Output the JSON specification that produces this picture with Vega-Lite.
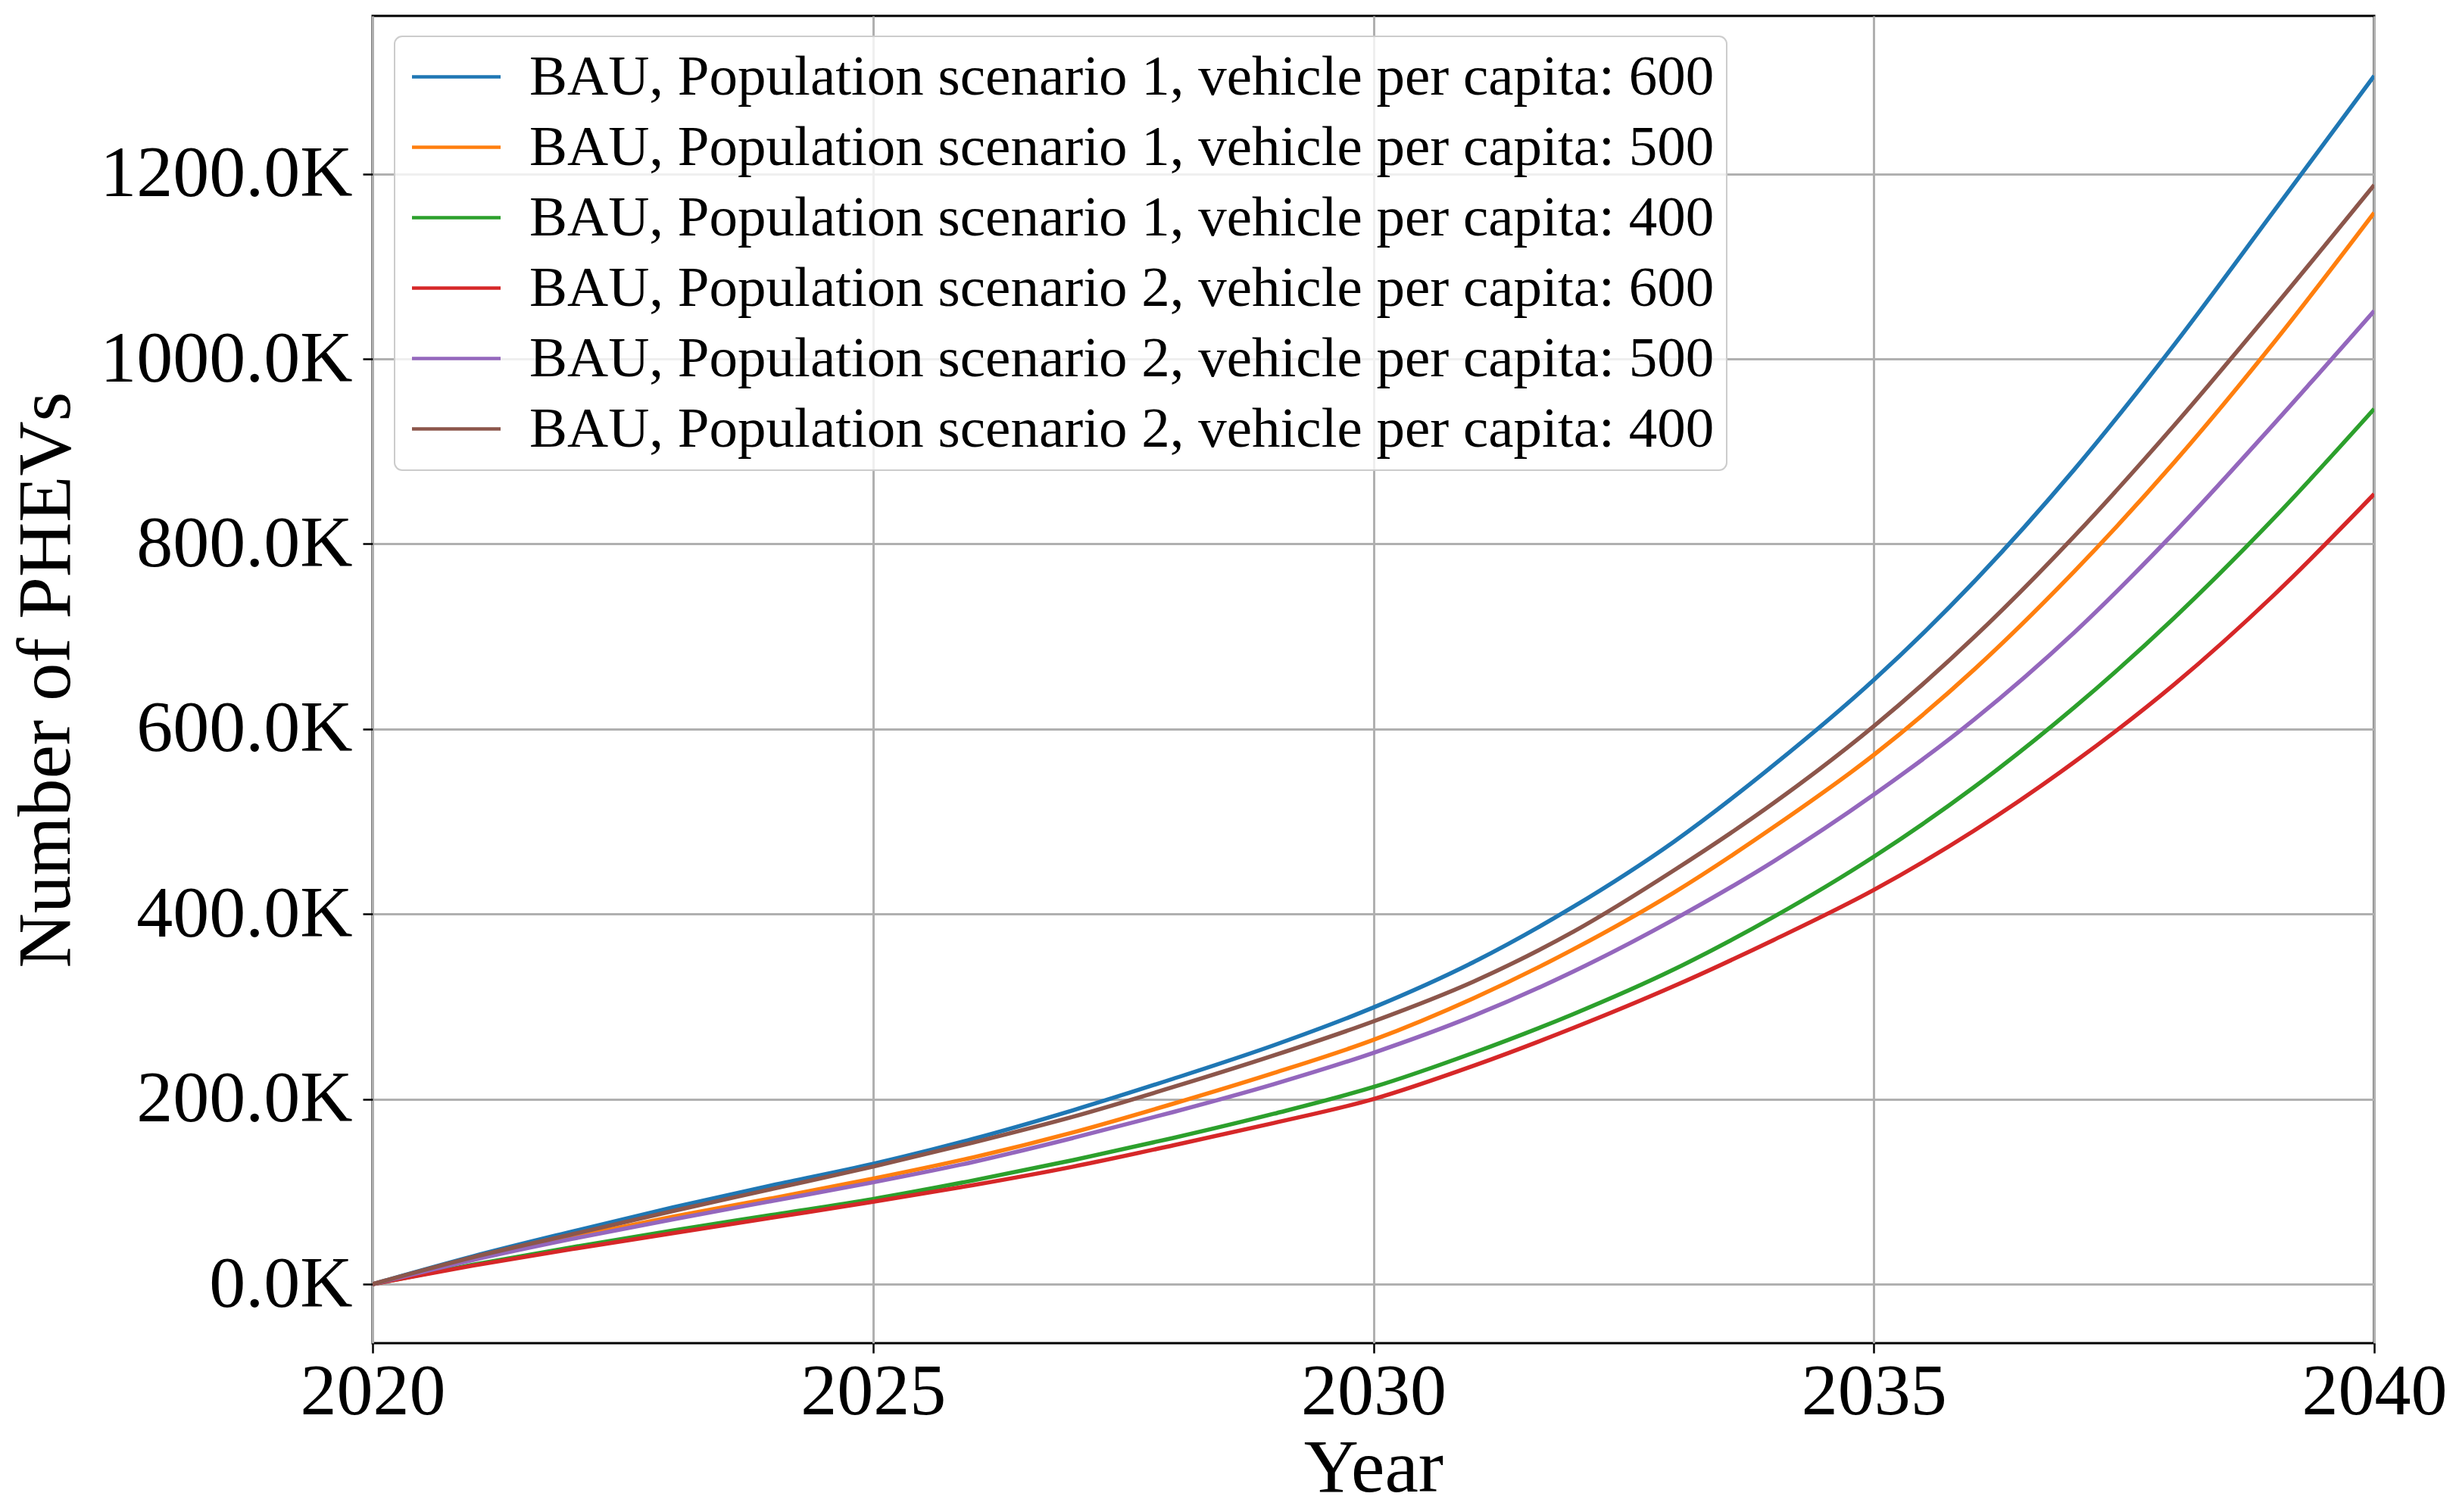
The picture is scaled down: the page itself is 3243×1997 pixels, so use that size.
{
 "$schema": "https://vega.github.io/schema/vega-lite/v6.json",
 "width": 2643, "height": 1753,
 "autosize": {"type": "none"},
 "padding": {"left": 492, "top": 21, "right": 108, "bottom": 223},
 "background": "white",
 "config": {
  "font": "Liberation Serif",
  "view": {"stroke": "#000000", "strokeWidth": 3},
  "axis": {"domain": false, "grid": true, "gridColor": "#b0b0b0", "gridWidth": 3, "tickColor": "#000000", "tickWidth": 2.5, "tickSize": 13, "labelFont": "Liberation Serif", "labelFontSize": 96, "labelColor": "#000000", "labelLimit": 0, "titleFont": "Liberation Serif", "titleFontSize": 100, "titleFontWeight": "normal", "titleColor": "#000000", "labelFlush": false, "labelOverlap": false, "labelBound": false}
 },
 "data": {"values": [
  {"year":2020,"series":"BAU, Population scenario 1, vehicle per capita: 600","phevs":0},
  {"year":2021,"series":"BAU, Population scenario 1, vehicle per capita: 600","phevs":30000},
  {"year":2022,"series":"BAU, Population scenario 1, vehicle per capita: 600","phevs":57000},
  {"year":2023,"series":"BAU, Population scenario 1, vehicle per capita: 600","phevs":83000},
  {"year":2024,"series":"BAU, Population scenario 1, vehicle per capita: 600","phevs":107000},
  {"year":2025,"series":"BAU, Population scenario 1, vehicle per capita: 600","phevs":130000},
  {"year":2026,"series":"BAU, Population scenario 1, vehicle per capita: 600","phevs":157000},
  {"year":2027,"series":"BAU, Population scenario 1, vehicle per capita: 600","phevs":188000},
  {"year":2028,"series":"BAU, Population scenario 1, vehicle per capita: 600","phevs":222000},
  {"year":2029,"series":"BAU, Population scenario 1, vehicle per capita: 600","phevs":258000},
  {"year":2030,"series":"BAU, Population scenario 1, vehicle per capita: 600","phevs":299000},
  {"year":2031,"series":"BAU, Population scenario 1, vehicle per capita: 600","phevs":348000},
  {"year":2032,"series":"BAU, Population scenario 1, vehicle per capita: 600","phevs":408000},
  {"year":2033,"series":"BAU, Population scenario 1, vehicle per capita: 600","phevs":478000},
  {"year":2034,"series":"BAU, Population scenario 1, vehicle per capita: 600","phevs":561000},
  {"year":2035,"series":"BAU, Population scenario 1, vehicle per capita: 600","phevs":653000},
  {"year":2036,"series":"BAU, Population scenario 1, vehicle per capita: 600","phevs":759000},
  {"year":2037,"series":"BAU, Population scenario 1, vehicle per capita: 600","phevs":880000},
  {"year":2038,"series":"BAU, Population scenario 1, vehicle per capita: 600","phevs":1015000},
  {"year":2039,"series":"BAU, Population scenario 1, vehicle per capita: 600","phevs":1160000},
  {"year":2040,"series":"BAU, Population scenario 1, vehicle per capita: 600","phevs":1306000},
  {"year":2020,"series":"BAU, Population scenario 1, vehicle per capita: 500","phevs":0},
  {"year":2021,"series":"BAU, Population scenario 1, vehicle per capita: 500","phevs":27000},
  {"year":2022,"series":"BAU, Population scenario 1, vehicle per capita: 500","phevs":51000},
  {"year":2023,"series":"BAU, Population scenario 1, vehicle per capita: 500","phevs":73000},
  {"year":2024,"series":"BAU, Population scenario 1, vehicle per capita: 500","phevs":93000},
  {"year":2025,"series":"BAU, Population scenario 1, vehicle per capita: 500","phevs":114000},
  {"year":2026,"series":"BAU, Population scenario 1, vehicle per capita: 500","phevs":137000},
  {"year":2027,"series":"BAU, Population scenario 1, vehicle per capita: 500","phevs":164000},
  {"year":2028,"series":"BAU, Population scenario 1, vehicle per capita: 500","phevs":195000},
  {"year":2029,"series":"BAU, Population scenario 1, vehicle per capita: 500","phevs":228000},
  {"year":2030,"series":"BAU, Population scenario 1, vehicle per capita: 500","phevs":264000},
  {"year":2031,"series":"BAU, Population scenario 1, vehicle per capita: 500","phevs":309000},
  {"year":2032,"series":"BAU, Population scenario 1, vehicle per capita: 500","phevs":362000},
  {"year":2033,"series":"BAU, Population scenario 1, vehicle per capita: 500","phevs":423000},
  {"year":2034,"series":"BAU, Population scenario 1, vehicle per capita: 500","phevs":494000},
  {"year":2035,"series":"BAU, Population scenario 1, vehicle per capita: 500","phevs":572000},
  {"year":2036,"series":"BAU, Population scenario 1, vehicle per capita: 500","phevs":664000},
  {"year":2037,"series":"BAU, Population scenario 1, vehicle per capita: 500","phevs":770000},
  {"year":2038,"series":"BAU, Population scenario 1, vehicle per capita: 500","phevs":888000},
  {"year":2039,"series":"BAU, Population scenario 1, vehicle per capita: 500","phevs":1018000},
  {"year":2040,"series":"BAU, Population scenario 1, vehicle per capita: 500","phevs":1158000},
  {"year":2020,"series":"BAU, Population scenario 1, vehicle per capita: 400","phevs":0},
  {"year":2021,"series":"BAU, Population scenario 1, vehicle per capita: 400","phevs":21000},
  {"year":2022,"series":"BAU, Population scenario 1, vehicle per capita: 400","phevs":40000},
  {"year":2023,"series":"BAU, Population scenario 1, vehicle per capita: 400","phevs":58000},
  {"year":2024,"series":"BAU, Population scenario 1, vehicle per capita: 400","phevs":75000},
  {"year":2025,"series":"BAU, Population scenario 1, vehicle per capita: 400","phevs":92000},
  {"year":2026,"series":"BAU, Population scenario 1, vehicle per capita: 400","phevs":112000},
  {"year":2027,"series":"BAU, Population scenario 1, vehicle per capita: 400","phevs":134000},
  {"year":2028,"series":"BAU, Population scenario 1, vehicle per capita: 400","phevs":158000},
  {"year":2029,"series":"BAU, Population scenario 1, vehicle per capita: 400","phevs":184000},
  {"year":2030,"series":"BAU, Population scenario 1, vehicle per capita: 400","phevs":213000},
  {"year":2031,"series":"BAU, Population scenario 1, vehicle per capita: 400","phevs":250000},
  {"year":2032,"series":"BAU, Population scenario 1, vehicle per capita: 400","phevs":292000},
  {"year":2033,"series":"BAU, Population scenario 1, vehicle per capita: 400","phevs":340000},
  {"year":2034,"series":"BAU, Population scenario 1, vehicle per capita: 400","phevs":397000},
  {"year":2035,"series":"BAU, Population scenario 1, vehicle per capita: 400","phevs":462000},
  {"year":2036,"series":"BAU, Population scenario 1, vehicle per capita: 400","phevs":537000},
  {"year":2037,"series":"BAU, Population scenario 1, vehicle per capita: 400","phevs":623000},
  {"year":2038,"series":"BAU, Population scenario 1, vehicle per capita: 400","phevs":720000},
  {"year":2039,"series":"BAU, Population scenario 1, vehicle per capita: 400","phevs":828000},
  {"year":2040,"series":"BAU, Population scenario 1, vehicle per capita: 400","phevs":946000},
  {"year":2020,"series":"BAU, Population scenario 2, vehicle per capita: 600","phevs":0},
  {"year":2021,"series":"BAU, Population scenario 2, vehicle per capita: 600","phevs":20000},
  {"year":2022,"series":"BAU, Population scenario 2, vehicle per capita: 600","phevs":38000},
  {"year":2023,"series":"BAU, Population scenario 2, vehicle per capita: 600","phevs":55000},
  {"year":2024,"series":"BAU, Population scenario 2, vehicle per capita: 600","phevs":72000},
  {"year":2025,"series":"BAU, Population scenario 2, vehicle per capita: 600","phevs":89000},
  {"year":2026,"series":"BAU, Population scenario 2, vehicle per capita: 600","phevs":107000},
  {"year":2027,"series":"BAU, Population scenario 2, vehicle per capita: 600","phevs":127000},
  {"year":2028,"series":"BAU, Population scenario 2, vehicle per capita: 600","phevs":150000},
  {"year":2029,"series":"BAU, Population scenario 2, vehicle per capita: 600","phevs":174000},
  {"year":2030,"series":"BAU, Population scenario 2, vehicle per capita: 600","phevs":200000},
  {"year":2031,"series":"BAU, Population scenario 2, vehicle per capita: 600","phevs":236000},
  {"year":2032,"series":"BAU, Population scenario 2, vehicle per capita: 600","phevs":277000},
  {"year":2033,"series":"BAU, Population scenario 2, vehicle per capita: 600","phevs":322000},
  {"year":2034,"series":"BAU, Population scenario 2, vehicle per capita: 600","phevs":372000},
  {"year":2035,"series":"BAU, Population scenario 2, vehicle per capita: 600","phevs":426000},
  {"year":2036,"series":"BAU, Population scenario 2, vehicle per capita: 600","phevs":490000},
  {"year":2037,"series":"BAU, Population scenario 2, vehicle per capita: 600","phevs":564000},
  {"year":2038,"series":"BAU, Population scenario 2, vehicle per capita: 600","phevs":648000},
  {"year":2039,"series":"BAU, Population scenario 2, vehicle per capita: 600","phevs":745000},
  {"year":2040,"series":"BAU, Population scenario 2, vehicle per capita: 600","phevs":854000},
  {"year":2020,"series":"BAU, Population scenario 2, vehicle per capita: 500","phevs":0},
  {"year":2021,"series":"BAU, Population scenario 2, vehicle per capita: 500","phevs":26000},
  {"year":2022,"series":"BAU, Population scenario 2, vehicle per capita: 500","phevs":49000},
  {"year":2023,"series":"BAU, Population scenario 2, vehicle per capita: 500","phevs":70000},
  {"year":2024,"series":"BAU, Population scenario 2, vehicle per capita: 500","phevs":90000},
  {"year":2025,"series":"BAU, Population scenario 2, vehicle per capita: 500","phevs":110000},
  {"year":2026,"series":"BAU, Population scenario 2, vehicle per capita: 500","phevs":132000},
  {"year":2027,"series":"BAU, Population scenario 2, vehicle per capita: 500","phevs":158000},
  {"year":2028,"series":"BAU, Population scenario 2, vehicle per capita: 500","phevs":186000},
  {"year":2029,"series":"BAU, Population scenario 2, vehicle per capita: 500","phevs":216000},
  {"year":2030,"series":"BAU, Population scenario 2, vehicle per capita: 500","phevs":250000},
  {"year":2031,"series":"BAU, Population scenario 2, vehicle per capita: 500","phevs":290000},
  {"year":2032,"series":"BAU, Population scenario 2, vehicle per capita: 500","phevs":338000},
  {"year":2033,"series":"BAU, Population scenario 2, vehicle per capita: 500","phevs":394000},
  {"year":2034,"series":"BAU, Population scenario 2, vehicle per capita: 500","phevs":457000},
  {"year":2035,"series":"BAU, Population scenario 2, vehicle per capita: 500","phevs":529000},
  {"year":2036,"series":"BAU, Population scenario 2, vehicle per capita: 500","phevs":610000},
  {"year":2037,"series":"BAU, Population scenario 2, vehicle per capita: 500","phevs":704000},
  {"year":2038,"series":"BAU, Population scenario 2, vehicle per capita: 500","phevs":812000},
  {"year":2039,"series":"BAU, Population scenario 2, vehicle per capita: 500","phevs":930000},
  {"year":2040,"series":"BAU, Population scenario 2, vehicle per capita: 500","phevs":1052000},
  {"year":2020,"series":"BAU, Population scenario 2, vehicle per capita: 400","phevs":0},
  {"year":2021,"series":"BAU, Population scenario 2, vehicle per capita: 400","phevs":29000},
  {"year":2022,"series":"BAU, Population scenario 2, vehicle per capita: 400","phevs":54000},
  {"year":2023,"series":"BAU, Population scenario 2, vehicle per capita: 400","phevs":79000},
  {"year":2024,"series":"BAU, Population scenario 2, vehicle per capita: 400","phevs":103000},
  {"year":2025,"series":"BAU, Population scenario 2, vehicle per capita: 400","phevs":127000},
  {"year":2026,"series":"BAU, Population scenario 2, vehicle per capita: 400","phevs":153000},
  {"year":2027,"series":"BAU, Population scenario 2, vehicle per capita: 400","phevs":181000},
  {"year":2028,"series":"BAU, Population scenario 2, vehicle per capita: 400","phevs":213000},
  {"year":2029,"series":"BAU, Population scenario 2, vehicle per capita: 400","phevs":247000},
  {"year":2030,"series":"BAU, Population scenario 2, vehicle per capita: 400","phevs":284000},
  {"year":2031,"series":"BAU, Population scenario 2, vehicle per capita: 400","phevs":327000},
  {"year":2032,"series":"BAU, Population scenario 2, vehicle per capita: 400","phevs":381000},
  {"year":2033,"series":"BAU, Population scenario 2, vehicle per capita: 400","phevs":447000},
  {"year":2034,"series":"BAU, Population scenario 2, vehicle per capita: 400","phevs":520000},
  {"year":2035,"series":"BAU, Population scenario 2, vehicle per capita: 400","phevs":603000},
  {"year":2036,"series":"BAU, Population scenario 2, vehicle per capita: 400","phevs":699000},
  {"year":2037,"series":"BAU, Population scenario 2, vehicle per capita: 400","phevs":808000},
  {"year":2038,"series":"BAU, Population scenario 2, vehicle per capita: 400","phevs":928000},
  {"year":2039,"series":"BAU, Population scenario 2, vehicle per capita: 400","phevs":1056000},
  {"year":2040,"series":"BAU, Population scenario 2, vehicle per capita: 400","phevs":1188000}
 ]},
 "mark": {"type": "line", "strokeWidth": 5.5, "interpolate": "monotone", "clip": true},
 "encoding": {
  "x": {"field": "year", "type": "quantitative", "scale": {"domain": [2020, 2040], "nice": false, "zero": false},
        "axis": {"values": [2020, 2025, 2030, 2035, 2040], "format": "d", "title": "Year", "labelPadding": 4, "titlePadding": 4}},
  "y": {"field": "phevs", "type": "quantitative", "scale": {"domain": [-63800, 1370700], "nice": false, "zero": false},
        "axis": {"values": [0, 200000, 400000, 600000, 800000, 1000000, 1200000], "labelExpr": "format(datum.value / 1000, '.1f') + 'K'", "title": "Number of PHEVs", "labelPadding": 14, "titleX": -401, "titleBaseline": "alphabetic", "titleAngle": -90}},
  "color": {"field": "series", "type": "nominal",
   "scale": {"domain": ["BAU, Population scenario 1, vehicle per capita: 600", "BAU, Population scenario 1, vehicle per capita: 500", "BAU, Population scenario 1, vehicle per capita: 400", "BAU, Population scenario 2, vehicle per capita: 600", "BAU, Population scenario 2, vehicle per capita: 500", "BAU, Population scenario 2, vehicle per capita: 400"],
             "range": ["#1f77b4", "#ff7f0e", "#2ca02c", "#d62728", "#9467bd", "#8c564b"]},
   "legend": {"title": null, "orient": "none", "legendX": 29, "legendY": 27,
    "symbolType": "M-2,0H2", "symbolSize": 3422, "symbolStrokeWidth": 4.5, "symbolOffset": 28,
    "labelFont": "Liberation Serif", "labelFontSize": 75, "labelColor": "#000000", "labelLimit": 0, "labelOffset": 59,
    "rowPadding": 17, "padding": 16, "fillColor": "rgba(255,255,255,0.8)", "strokeColor": "#cccccc", "cornerRadius": 10,
    "encode": {"legend": {"update": {"strokeWidth": {"value": 2}}}}}}
 }
}
